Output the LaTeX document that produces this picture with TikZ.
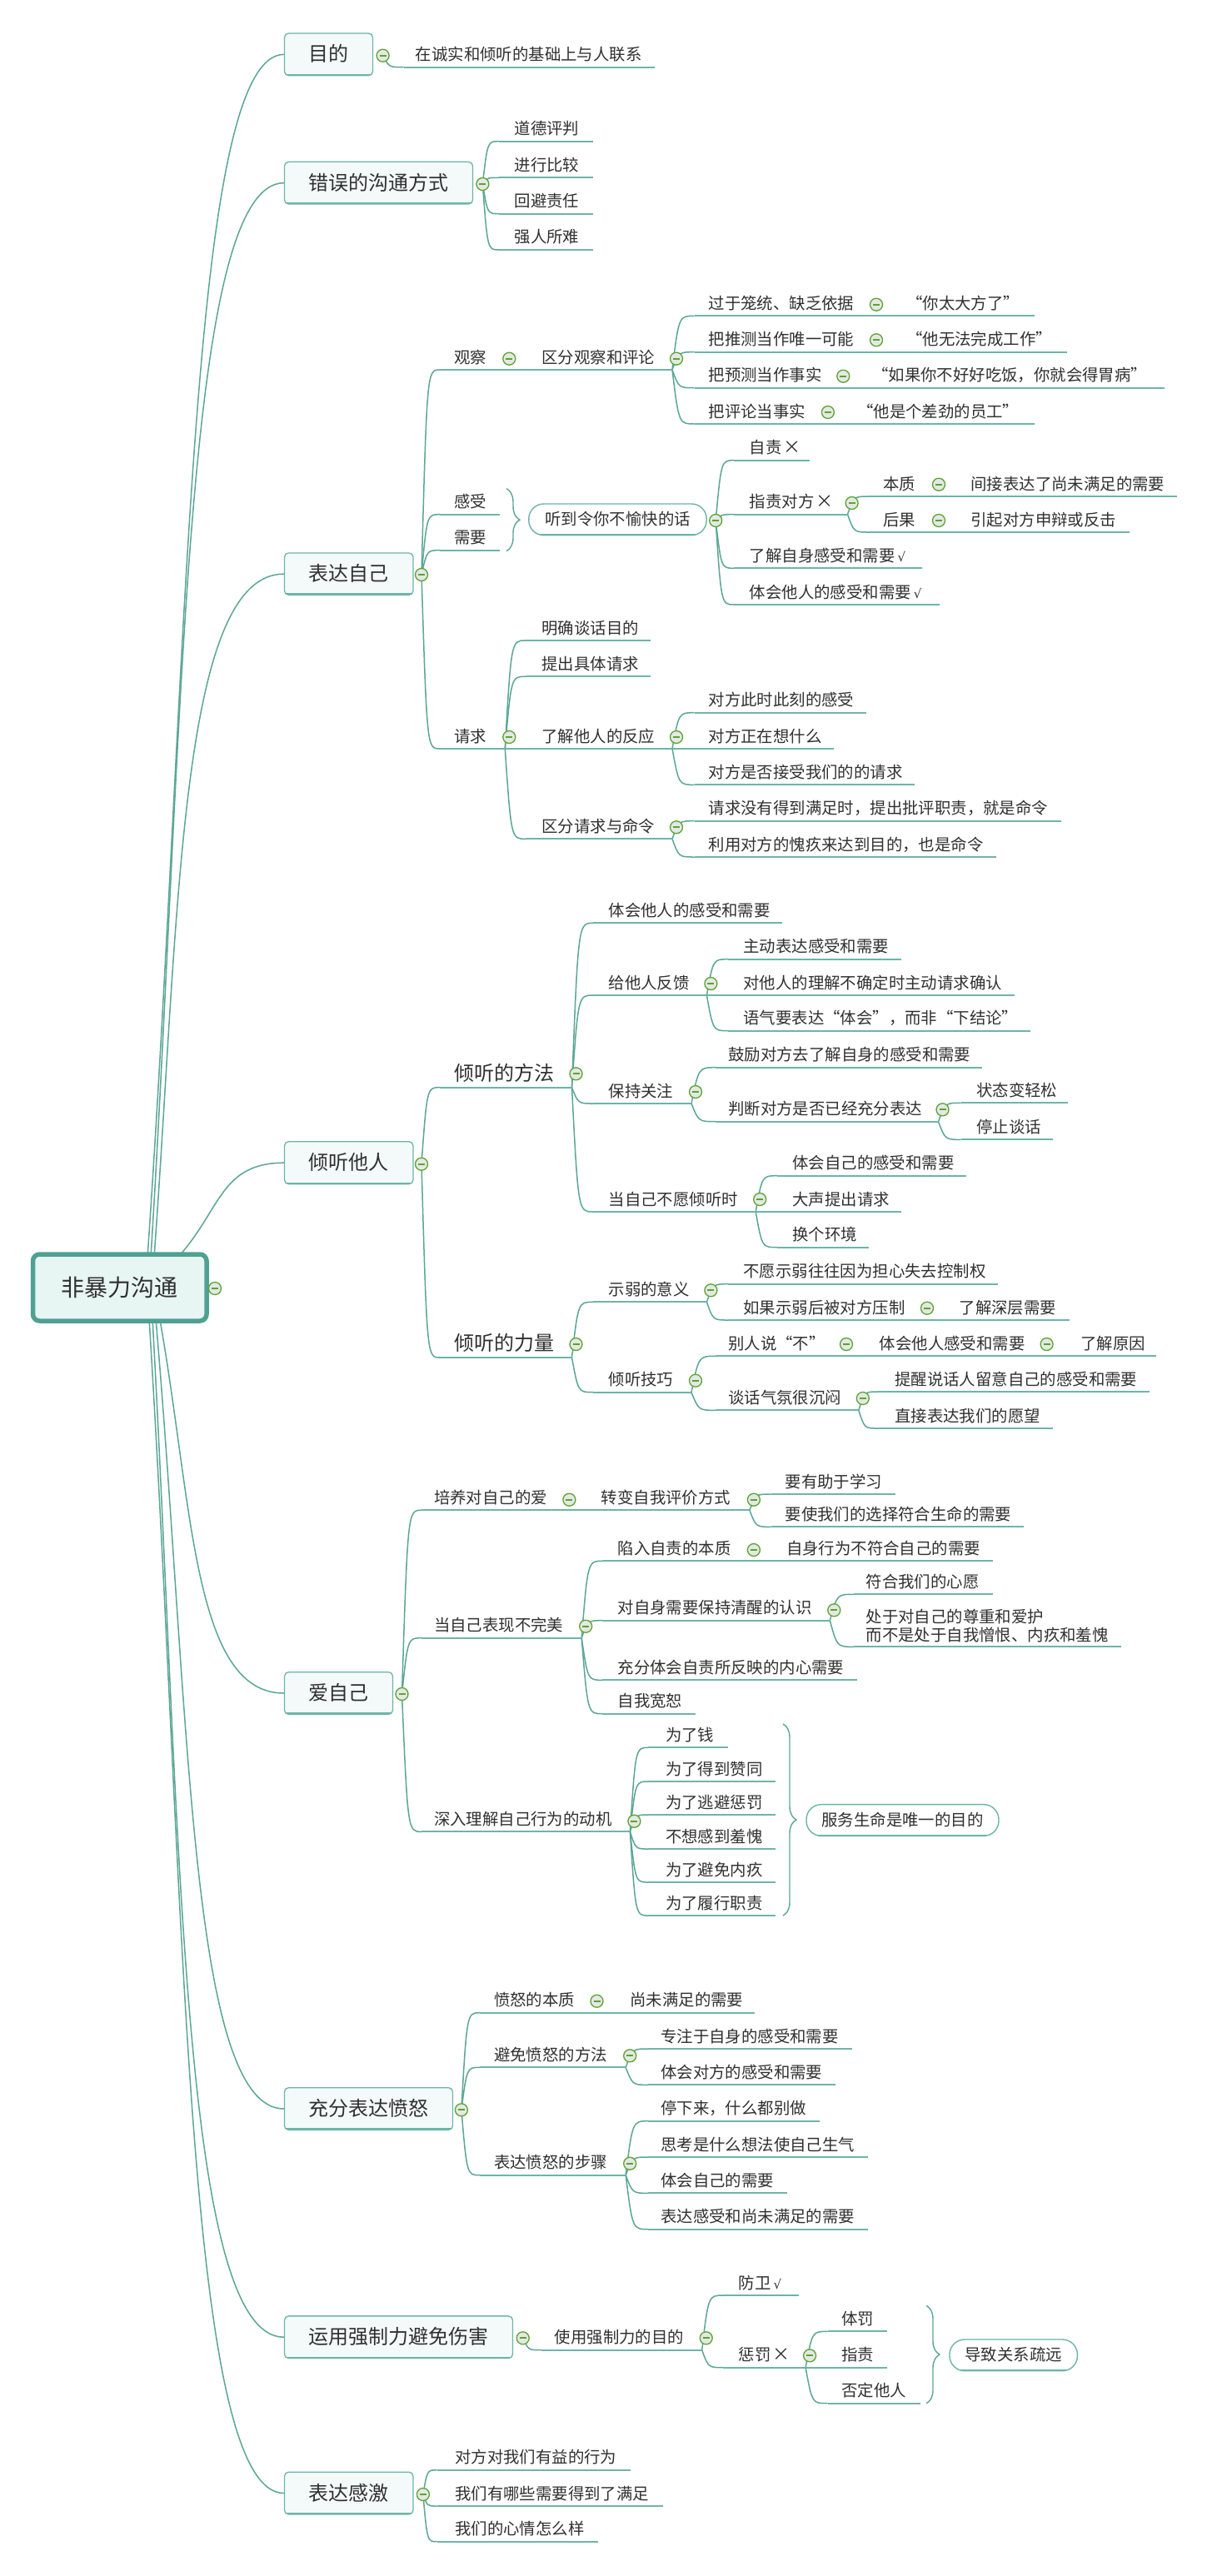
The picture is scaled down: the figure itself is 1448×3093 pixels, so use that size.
\documentclass[tikz,border=0pt]{standalone}
\usepackage{fontspec}
\newfontfamily\cjk{Noto Sans CJK SC}
\newfontfamily\djv{DejaVu Sans}
\usetikzlibrary{calc,decorations.pathreplacing}
\definecolor{conncol}{HTML}{5BA696}
\definecolor{ulcol}{HTML}{6DB5A8}
\definecolor{boxcol}{HTML}{6DB5A8}
\definecolor{boxfill}{HTML}{F3FAF9}
\definecolor{rootcol}{HTML}{4FA192}
\definecolor{rootfill}{HTML}{E8F6F3}
\definecolor{txtcol}{HTML}{303030}
\definecolor{cgreen}{HTML}{5CA331}
\definecolor{cfill}{HTML}{E4E8E4}
\newcommand\fLeaf{\cjk\fontsize{19.4pt}{23pt}\selectfont}
\newcommand\fBig{\cjk\fontsize{24pt}{28pt}\selectfont}
\newcommand\fRoot{\cjk\fontsize{28pt}{32pt}\selectfont}
\newcommand\chk{\hspace{3pt}{\djv\fontsize{15pt}{17pt}\selectfont √}}
\newcommand\crs{\hspace{2pt}{\cjk\fontsize{21pt}{24pt}\selectfont ×}}
\pgfdeclarelayer{back}
\pgfdeclarelayer{bg}
\pgfsetlayers{back,bg,main}
\tikzset{
 conn/.style={draw=conncol, line width=1.5pt},
 uline/.style={draw=ulcol, line width=2.2pt},
 leaftext/.style={inner sep=0pt, anchor=base west, font=\fLeaf, text=txtcol},
 bigtext/.style={inner sep=0pt, anchor=base west, font=\fBig, text=txtcol},
 mainbox/.style={rectangle, rounded corners=5pt, draw=boxcol, line width=1.3pt, fill=boxfill, inner sep=0pt, font=\fBig, text=txtcol, text height=17.3pt, text depth=0pt,
   path picture={\draw[boxcol, line width=4pt] (path picture bounding box.south west) -- (path picture bounding box.south east);}},
 rootbox/.style={rectangle, rounded corners=8pt, draw=rootcol, line width=5.5pt, fill=rootfill, inner sep=0pt, font=\fRoot, text=txtcol, text height=20.2pt, text depth=0pt},
 pill/.style={rectangle, rounded corners=18pt, draw=boxcol, line width=1.4pt, fill=white, inner sep=0pt, font=\fLeaf, text=txtcol, text height=14pt, text depth=0pt,
   path picture={\draw[boxcol, line width=3.5pt] (path picture bounding box.south west) -- (path picture bounding box.south east);}},
 collapse/.style={circle, draw=cgreen, line width=1.3pt, fill=cfill, minimum size=15pt, inner sep=0pt,
   path picture={\draw[cgreen, line width=1.8pt] ([xshift=-4pt]path picture bounding box.center) -- ([xshift=4pt]path picture bounding box.center);}},
 bracest/.style={draw=conncol, line width=1.4pt, decorate, decoration={brace, amplitude=16pt}},
}
\newcommand\leafnode[6]{%
  \coordinate (#1) at (#2,#3);
  \node[leaftext] (#1t) at (#4,#3-8) {#6};
  \draw[uline] (#1) -- (#5,#3);}
\newcommand\bigleaf[6]{%
  \coordinate (#1) at (#2,#3);
  \node[bigtext] (#1t) at (#4,#3-8.3) {#6};
  \draw[uline] (#1) -- (#5,#3);}
\newcommand\cnode[3]{\node[collapse] (#1) at (#2,#3) {};}
\newcommand\jn[3]{\coordinate (#1) at (#2,#3);}
\newcommand\conto[2]{\draw[conn] (#1) .. controls ($(#1 |- #2)!0.3!(#2)$) .. (#2);}
\newcommand\contoS[2]{\draw[uline] (#1) -- (#2);}
% root connector: start, target, horizontal offset
\newcommand\rootto[3]{\draw[conn] (#1) .. controls ($(#1)!0.5!(#1 |- #2)+(#3,0)$) and ($(#1 |- #2)+(#3,0)$) .. (#2);}
\begin{document}
\begin{tikzpicture}[x=1pt,y=-1pt]
\useasboundingbox (0,0) rectangle (1448,3093);
\begin{pgfonlayer}{back}\fill[white] (0,0) rectangle (1448,3093);\end{pgfonlayer}

% ---------- root ----------
\node[rootbox, minimum width=208.5, minimum height=80] (root) at (143.75,1546) {非暴力沟通};
\cnode{croot}{258}{1547}
\jn{rs1}{177}{1510}
\jn{rs2}{181}{1510}
\jn{rs3}{185}{1510}
\jn{rs4}{215}{1508}
\jn{rs5}{191.7}{1583}
\jn{rs6}{187}{1583}
\jn{rs7}{183}{1583}
\jn{rs8}{179}{1583}

% ---------- main topics ----------
\node[mainbox, minimum width=106, minimum height=50.7] (m1) at (394.5,65.35) {目的};
\node[mainbox, minimum width=226, minimum height=50.7] (m2) at (454.5,219.65) {错误的沟通方式};
\node[mainbox, minimum width=154.5, minimum height=50.5] (m3) at (418.75,689.15) {表达自己};
\node[mainbox, minimum width=154.5, minimum height=51] (m4) at (418.75,1396.2) {倾听他人};
\node[mainbox, minimum width=130, minimum height=50.7] (m5) at (406.5,2033) {爱自己};
\node[mainbox, minimum width=202, minimum height=50.7] (m6) at (442.5,2532) {充分表达愤怒};
\node[mainbox, minimum width=274, minimum height=50.7] (m7) at (478.5,2806.2) {运用强制力避免伤害};
\node[mainbox, minimum width=154.5, minimum height=50.7] (m8) at (418.75,2993.5) {表达感激};

% ---------- 目的 ----------
\cnode{cm1}{459.6}{66.7} \jn{jm1}{459.6}{66.7}
\leafnode{a1}{484.7}{80.7}{498.6}{786.4}{在诚实和倾听的基础上与人联系}

% ---------- 错误的沟通方式 ----------
\cnode{cm2}{579.4}{221} \jn{jm2}{579.4}{221}
\leafnode{b1}{599}{169.7}{617.5}{712.2}{道德评判}
\leafnode{b2}{599}{213.3}{617.5}{712.2}{进行比较}
\leafnode{b3}{599}{256.7}{617.5}{712.2}{回避责任}
\leafnode{b4}{599}{300}{617.5}{712.2}{强人所难}

% ---------- 表达自己 ----------
\cnode{cm3}{506}{690} \jn{jm3}{506}{690}
\leafnode{obs}{528}{444}{545}{606.3}{观察}
\cnode{cobs}{611.3}{430.7} \jn{jobs}{606.3}{444}
\leafnode{dist}{631}{444}{650.3}{807}{区分观察和评论}
\cnode{cdist}{812}{430.7} \jn{jdist}{807}{444}
\leafnode{d1}{833.5}{379.3}{850.4}{1047}{过于笼统、缺乏依据}
\cnode{cd1}{1052}{365.7} \jn{jd1}{1047}{379.3}
\leafnode{d1a}{1047}{379.3}{1088}{1242}{“你太大方了”}
\leafnode{d2}{833.5}{422.7}{850.4}{1047}{把推测当作唯一可能}
\cnode{cd2}{1052}{408.3} \jn{jd2}{1047}{422.7}
\leafnode{d2a}{1047}{422.7}{1088}{1281}{“他无法完成工作”}
\leafnode{d3}{833.5}{465.7}{850.4}{1007.3}{把预测当作事实}
\cnode{cd3}{1012.3}{451.7} \jn{jd3}{1007.3}{465.7}
\leafnode{d3a}{1007.3}{465.7}{1047}{1397.9}{“如果你不好好吃饭，你就会得胃病”}
\leafnode{d4}{833.5}{509}{850.4}{989}{把评论当事实}
\cnode{cd4}{993.9}{495} \jn{jd4}{989}{509}
\leafnode{d4a}{989}{509}{1029}{1242}{“他是个差劲的员工”}

\leafnode{feel}{528}{617.7}{545}{599.5}{感受}
\leafnode{need}{528}{660.7}{545}{599.5}{需要}
\draw[bracest] (608,586.7) -- (608,661.7);
\node[pill, minimum width=213.4, minimum height=37.7] (p1) at (741.5,623.85) {听到令你不愉快的话};
\cnode{cp1}{859.2}{625} \jn{jp1}{859.2}{625}
\leafnode{e1}{881.3}{552.7}{899.7}{971.8}{自责\crs}
\leafnode{e2}{881.3}{617.7}{899.7}{1017.5}{指责对方\crs}
\cnode{ce2}{1022.6}{604} \jn{je2}{1017.5}{617.7}
\leafnode{e2a}{1043}{596}{1060}{1122}{本质}
\cnode{ce2a}{1127}{581.7} \jn{je2a}{1122}{596}
\leafnode{e2a1}{1122}{596}{1165.3}{1413.3}{间接表达了尚未满足的需要}
\leafnode{e2b}{1043}{639}{1060}{1122}{后果}
\cnode{ce2b}{1127}{625} \jn{je2b}{1122}{639}
\leafnode{e2b1}{1122}{639}{1165.3}{1356}{引起对方申辩或反击}
\leafnode{e3}{881.3}{682.3}{899.7}{1106.5}{了解自身感受和需要\chk}
\leafnode{e4}{881.3}{726}{899.7}{1127.8}{体会他人的感受和需要\chk}

\leafnode{req}{528}{899}{545}{606.3}{请求}
\cnode{creq}{611.3}{885} \jn{jreq}{606.3}{899}
\leafnode{f1}{631}{769}{650.3}{780.5}{明确谈话目的}
\leafnode{f2}{631}{812.3}{650.3}{780.5}{提出具体请求}
\leafnode{f3}{631}{899}{650.3}{807}{了解他人的反应}
\cnode{cf3}{812}{885} \jn{jf3}{807}{899}
\leafnode{g1}{833.5}{855.7}{850.4}{1039.5}{对方此时此刻的感受}
\leafnode{g2}{833.5}{899}{850.4}{1001.3}{对方正在想什么}
\leafnode{g3}{833.5}{942.3}{850.4}{1098.4}{对方是否接受我们的的请求}
\leafnode{f4}{631}{1007.3}{650.3}{807}{区分请求与命令}
\cnode{cf4}{812}{993.3} \jn{jf4}{807}{1007.3}
\leafnode{h1}{833.5}{985.7}{850.4}{1273.5}{请求没有得到满足时，提出批评职责，就是命令}
\leafnode{h2}{833.5}{1029}{850.4}{1195.5}{利用对方的愧疚来达到目的，也是命令}

% ---------- 倾听他人 ----------
\cnode{cm4}{506}{1397.7} \jn{jm4}{506}{1397.7}
\bigleaf{i1}{528}{1305.7}{545}{686.5}{倾听的方法}
\cnode{ci1}{691.5}{1289.3} \jn{ji1}{686.5}{1305.7}
\leafnode{j1}{712}{1108.3}{730.5}{938.7}{体会他人的感受和需要}
\leafnode{j2}{712}{1195}{730.5}{848.4}{给他人反馈}
\cnode{cj2}{853.4}{1181} \jn{jj2}{848.4}{1195}
\leafnode{k1}{874}{1151.7}{892.3}{1082.2}{主动表达感受和需要}
\leafnode{k2}{874}{1195}{892.3}{1217.6}{对他人的理解不确定时主动请求确认}
\leafnode{k3}{874}{1237.7}{892.3}{1236.7}{语气要表达“体会”，而非“下结论”}
\leafnode{j3}{712}{1325}{730.5}{830}{保持关注}
\cnode{cj3}{835}{1311} \jn{jj3}{830}{1325}
\leafnode{l1}{859.2}{1281.7}{874}{1179.3}{鼓励对方去了解自身的感受和需要}
\leafnode{l2}{859.2}{1346.7}{874}{1126.5}{判断对方是否已经充分表达}
\cnode{cl2}{1131.5}{1332.3} \jn{jl2}{1126.5}{1346.7}
\leafnode{l2a}{1153.6}{1324.3}{1172}{1282.3}{状态变轻松}
\leafnode{l2b}{1153.6}{1368.3}{1172}{1264}{停止谈话}
\leafnode{j4}{712}{1455}{730.5}{907.2}{当自己不愿倾听时}
\cnode{cj4}{912.2}{1440} \jn{jj4}{907.2}{1455}
\leafnode{n1}{932.8}{1411.7}{951.2}{1159.5}{体会自己的感受和需要}
\leafnode{n2}{932.8}{1455}{951.2}{1082}{大声提出请求}
\leafnode{n3}{932.8}{1497.7}{951.2}{1043}{换个环境}
\bigleaf{i2}{528}{1630}{545}{686.5}{倾听的力量}
\cnode{ci2}{691.5}{1614} \jn{ji2}{686.5}{1630}
\leafnode{o1}{712}{1563.3}{730.5}{848.4}{示弱的意义}
\cnode{co1}{853.4}{1549.3} \jn{jo1}{848.4}{1563.3}
\leafnode{o1a}{874}{1541.7}{892.3}{1197.7}{不愿示弱往往因为担心失去控制权}
\leafnode{o1b}{874}{1585}{892.3}{1108}{如果示弱后被对方压制}
\cnode{co1b}{1113}{1570.7} \jn{jo1b}{1108}{1585}
\leafnode{o1b1}{1108}{1585}{1151.4}{1283.8}{了解深层需要}
\leafnode{o2}{712}{1671.7}{730.5}{830}{倾听技巧}
\cnode{co2}{835}{1657.7} \jn{jo2}{830}{1671.7}
\leafnode{q1}{859.2}{1628.3}{874}{1011}{别人说“不”}
\cnode{cq1}{1016}{1614} \jn{jq1}{1011}{1628.3}
\leafnode{q1a}{1011}{1628.3}{1055.7}{1251.6}{体会他人感受和需要}
\cnode{cq1a}{1256.6}{1614} \jn{jq1a}{1251.6}{1628.3}
\leafnode{q1b}{1251.6}{1628.3}{1297}{1387.6}{了解原因}
\leafnode{q2}{859.2}{1693.3}{874}{1030.8}{谈话气氛很沉闷}
\cnode{cq2}{1035.8}{1679} \jn{jq2}{1030.8}{1693.3}
\leafnode{q2a}{1054.2}{1671}{1074}{1380}{提醒说话人留意自己的感受和需要}
\leafnode{q2b}{1054.2}{1715}{1074}{1264}{直接表达我们的愿望}

% ---------- 爱自己 ----------
\cnode{cm5}{482.5}{2034} \jn{jm5}{482.5}{2034}
\leafnode{r1}{506}{1813.3}{520.8}{678.4}{培养对自己的爱}
\cnode{cr1}{683.4}{1800.7} \jn{jr1}{678.4}{1813.3}
\leafnode{r1a}{678.4}{1813.3}{721.6}{899.9}{转变自我评价方式}
\cnode{cr1a}{904.9}{1800.7} \jn{jr1a}{899.9}{1813.3}
\leafnode{r1a1}{925.5}{1794}{942.4}{1074.8}{要有助于学习}
\leafnode{r1a2}{925.5}{1833.3}{942.4}{1229.4}{要使我们的选择符合生命的需要}
\leafnode{r2}{506}{1966.7}{520.8}{698.2}{当自己表现不完美}
\cnode{cr2}{703.2}{1952.7} \jn{jr2}{698.2}{1966.7}
\leafnode{s1}{723}{1874.3}{741.5}{899.9}{陷入自责的本质}
\cnode{cs1}{904.9}{1861} \jn{js1}{899.9}{1874.3}
\leafnode{s1a}{899.9}{1874.3}{943.9}{1191.8}{自身行为不符合自己的需要}
\leafnode{s2}{723}{1945.7}{741.5}{996.3}{对自身需要保持清醒的认识}
\cnode{cs2}{1001.3}{1933.3} \jn{js2}{996.3}{1945.7}
\leafnode{s2a}{1024.8}{1914.3}{1039.5}{1191.8}{符合我们的心愿}
\coordinate (s2b) at (1024.8,1977.3);
\node[leaftext] (s2bt) at (1039.5,1948.7) {处于对自己的尊重和爱护};
\node[leaftext] (s2bu) at (1039.5,1970.3) {而不是处于自我憎恨、内疚和羞愧};
\draw[uline] (s2b) -- (1346.4,1977.3);
\leafnode{s3}{723}{2017.3}{741.5}{1028.5}{充分体会自责所反映的内心需要}
\leafnode{s4}{723}{2057.7}{741.5}{835}{自我宽恕}
\leafnode{r3}{506}{2199.3}{520.8}{756.4}{深入理解自己行为的动机}
\cnode{cr3}{761.4}{2186.7} \jn{jr3}{756.4}{2199.3}
\leafnode{t1}{778.3}{2098.3}{798.9}{874}{为了钱}
\leafnode{t2}{778.3}{2139}{798.9}{931.3}{为了得到赞同}
\leafnode{t3}{778.3}{2179}{798.9}{931.3}{为了逃避惩罚}
\leafnode{t4}{778.3}{2220}{798.9}{931.3}{不想感到羞愧}
\leafnode{t5}{778.3}{2260}{798.9}{931.3}{为了避免内疚}
\leafnode{t6}{778.3}{2300}{798.9}{931.3}{为了履行职责}
\draw[bracest] (940,2070) -- (940,2300);
\node[pill, minimum width=231, minimum height=37.7] (p2) at (1083.5,2185.5) {服务生命是唯一的目的};

% ---------- 充分表达愤怒 ----------
\cnode{cm6}{553.9}{2533.3} \jn{jm6}{553.9}{2533.3}
\leafnode{u1}{576}{2416.7}{592.9}{711.5}{愤怒的本质}
\cnode{cu1}{716.5}{2402.7} \jn{ju1}{711.5}{2416.7}
\leafnode{u1a}{711.5}{2416.7}{756.2}{905.6}{尚未满足的需要}
\leafnode{u2}{576}{2482.3}{592.9}{751.2}{避免愤怒的方法}
\cnode{cu2}{756.2}{2468.3} \jn{ju2}{751.2}{2482.3}
\leafnode{u2a}{778.3}{2460}{793}{1022.6}{专注于自身的感受和需要}
\leafnode{u2b}{778.3}{2503.3}{793}{1002.7}{体会对方的感受和需要}
\leafnode{u3}{576}{2611.7}{592.9}{751.2}{表达愤怒的步骤}
\cnode{cu3}{756.2}{2597.7} \jn{ju3}{751.2}{2611.7}
\leafnode{u3a}{778.3}{2546.7}{793}{984.3}{停下来，什么都别做}
\leafnode{u3b}{778.3}{2590}{793}{1041.7}{思考是什么想法使自己生气}
\leafnode{u3c}{778.3}{2633.3}{793}{945.3}{体会自己的需要}
\leafnode{u3d}{778.3}{2676.7}{793}{1041.7}{表达感受和尚未满足的需要}

% ---------- 运用强制力避免伤害 ----------
\cnode{cm7}{627.7}{2807.3} \jn{jm7}{627.7}{2807.3}
\leafnode{v1}{650}{2821.7}{665.7}{842.7}{使用强制力的目的}
\cnode{cv1}{847.7}{2807.3} \jn{jv1}{842.7}{2821.7}
\leafnode{v1a}{868.2}{2756}{886.7}{959.1}{防卫\chk}
\leafnode{v1b}{868.2}{2842.7}{886.7}{967.1}{惩罚\crs}
\cnode{cv1b}{972.1}{2828.3} \jn{jv1b}{967.1}{2842.7}
\leafnode{w1}{993.5}{2799.3}{1010.2}{1065}{体罚}
\leafnode{w2}{993.5}{2842.7}{1010.2}{1065}{指责}
\leafnode{w3}{993.5}{2885.7}{1010.2}{1105}{否定他人}
\draw[bracest] (1112,2768.3) -- (1112,2885.7);
\node[pill, minimum width=153.4, minimum height=37.7] (p3) at (1216.7,2827.85) {导致关系疏远};

% ---------- 表达感激 ----------
\cnode{cm8}{507.9}{2995} \jn{jm8}{507.9}{2995}
\leafnode{x1}{524.6}{2965.7}{546}{756.7}{对方对我们有益的行为}
\leafnode{x2}{524.6}{3009}{546}{795.7}{我们有哪些需要得到了满足}
\leafnode{x3}{524.6}{3051.7}{546}{717.7}{我们的心情怎么样}

% ---------- connectors ----------
\begin{pgfonlayer}{bg}
\rootto{rs1}{m1.west}{50}
\rootto{rs2}{m2.west}{40}
\rootto{rs3}{m3.west}{30}
\rootto{rs4}{m4.west}{50}
\rootto{rs5}{m5.west}{40}
\rootto{rs6}{m6.west}{41}
\rootto{rs7}{m7.west}{34}
\rootto{rs8}{m8.west}{44}

\conto{jm1}{a1}
\conto{jm2}{b1}\conto{jm2}{b2}\conto{jm2}{b3}\conto{jm2}{b4}

\conto{jm3}{obs}\conto{jm3}{feel}\conto{jm3}{need}\conto{jm3}{req}
\contoS{jobs}{dist}
\conto{jdist}{d1}\conto{jdist}{d2}\conto{jdist}{d3}\conto{jdist}{d4}
\contoS{jd1}{d1a}\contoS{jd2}{d2a}\contoS{jd3}{d3a}\contoS{jd4}{d4a}
\conto{jp1}{e1}\conto{jp1}{e2}\conto{jp1}{e3}\conto{jp1}{e4}
\conto{je2}{e2a}\conto{je2}{e2b}
\contoS{je2a}{e2a1}\contoS{je2b}{e2b1}
\conto{jreq}{f1}\conto{jreq}{f2}\contoS{jreq}{f3}\conto{jreq}{f4}
\conto{jf3}{g1}\contoS{jf3}{g2}\conto{jf3}{g3}
\conto{jf4}{h1}\conto{jf4}{h2}

\conto{jm4}{i1}\conto{jm4}{i2}
\conto{ji1}{j1}\conto{ji1}{j2}\conto{ji1}{j3}\conto{ji1}{j4}
\conto{jj2}{k1}\contoS{jj2}{k2}\conto{jj2}{k3}
\conto{jj3}{l1}\conto{jj3}{l2}
\conto{jl2}{l2a}\conto{jl2}{l2b}
\conto{jj4}{n1}\contoS{jj4}{n2}\conto{jj4}{n3}
\conto{ji2}{o1}\conto{ji2}{o2}
\conto{jo1}{o1a}\conto{jo1}{o1b}
\contoS{jo1b}{o1b1}
\conto{jo2}{q1}\conto{jo2}{q2}
\contoS{jq1}{q1a}\contoS{jq1a}{q1b}
\conto{jq2}{q2a}\conto{jq2}{q2b}

\conto{jm5}{r1}\conto{jm5}{r2}\conto{jm5}{r3}
\contoS{jr1}{r1a}
\conto{jr1a}{r1a1}\conto{jr1a}{r1a2}
\conto{jr2}{s1}\conto{jr2}{s2}\conto{jr2}{s3}\conto{jr2}{s4}
\contoS{js1}{s1a}
\conto{js2}{s2a}\conto{js2}{s2b}
\conto{jr3}{t1}\conto{jr3}{t2}\conto{jr3}{t3}\conto{jr3}{t4}\conto{jr3}{t5}\conto{jr3}{t6}

\conto{jm6}{u1}\conto{jm6}{u2}\conto{jm6}{u3}
\contoS{ju1}{u1a}
\conto{ju2}{u2a}\conto{ju2}{u2b}
\conto{ju3}{u3a}\conto{ju3}{u3b}\conto{ju3}{u3c}\conto{ju3}{u3d}

\conto{jm7}{v1}
\conto{jv1}{v1a}\conto{jv1}{v1b}
\conto{jv1b}{w1}\contoS{jv1b}{w2}\conto{jv1b}{w3}

\conto{jm8}{x1}\conto{jm8}{x2}\conto{jm8}{x3}
\end{pgfonlayer}
\end{tikzpicture}
\end{document}
